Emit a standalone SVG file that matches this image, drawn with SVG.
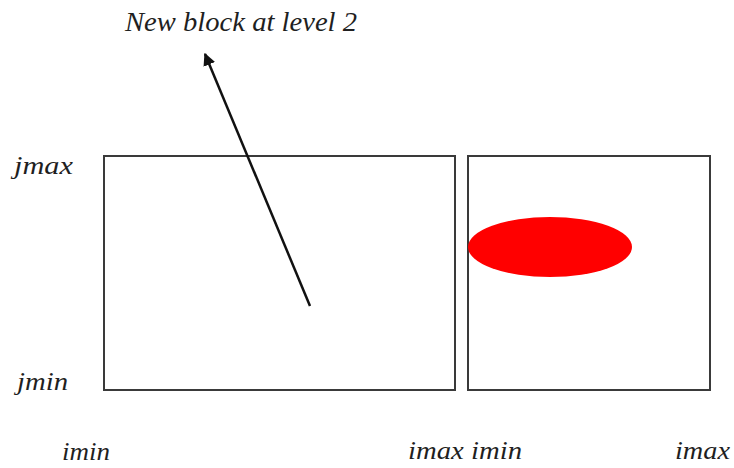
<svg xmlns="http://www.w3.org/2000/svg" width="734" height="468" viewBox="0 0 734 468">
<defs>
<style>
.lbl{font-family:"Liberation Serif","DejaVu Serif",serif;font-style:italic;font-size:26px;fill:#1f1f1f}
.ttl{font-size:28px}
.box{fill:none;stroke:#3a3a3a;stroke-width:2}
.conn{stroke:#111;stroke-width:2.5;fill:none}
</style>
<marker id="ah" viewBox="0 0 10 10" refX="9" refY="5" markerWidth="5" markerHeight="5" orient="auto" markerUnits="strokeWidth">
<path d="M0,0 L10,5 L0,10 z" fill="#111"/>
</marker>
</defs>
<rect width="734" height="468" fill="#fff"/>
<g id="block-left"><rect class="box" x="104" y="156" width="351" height="234"/></g>
<g id="block-right"><rect class="box" x="468" y="156" width="242" height="234"/>
<ellipse cx="550" cy="247" rx="82" ry="30" fill="#ff0000"/></g>
<g id="connectors"><line class="conn" x1="310" y1="306" x2="205" y2="54" marker-end="url(#ah)"/></g>
<g id="labels">
<text class="lbl ttl" x="125" y="31" textLength="232" lengthAdjust="spacingAndGlyphs">New block at level 2</text>
<text class="lbl" x="14" y="174" textLength="59" lengthAdjust="spacingAndGlyphs">jmax</text>
<text class="lbl" x="17" y="390" textLength="51" lengthAdjust="spacingAndGlyphs">jmin</text>
<text class="lbl" x="62" y="460" textLength="48" lengthAdjust="spacingAndGlyphs">imin</text>
<text class="lbl" x="408" y="459" textLength="114" lengthAdjust="spacingAndGlyphs">imax imin</text>
<text class="lbl" x="675" y="459" textLength="55" lengthAdjust="spacingAndGlyphs">imax</text>
</g>
</svg>
